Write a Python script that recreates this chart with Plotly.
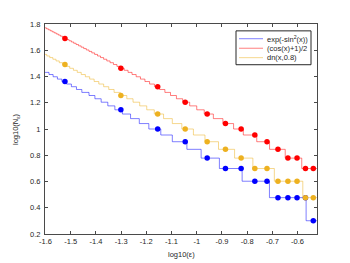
import numpy as np
import plotly.graph_objects as go

# ---- data ----
eps_min = 0.025
eps_max = 0.3

# epsilon values at which the count drops by one, and the counts on each plateau
blue_bounds = [0.02593, 0.02692, 0.02800, 0.02917, 0.03043, 0.03182, 0.03333, 0.03500,
               0.03737, 0.03944, 0.04176, 0.04438, 0.04733, 0.05071, 0.05462, 0.05917,
               0.06455, 0.0720, 0.0800, 0.0914, 0.1041, 0.1230, 0.1514, 0.1943, 0.2716]
blue_n = [27, 26, 25, 24, 23, 22, 21, 20, 19, 18, 17, 16, 15, 14, 13, 12, 11, 10, 9, 8,
          7, 6, 5, 4, 3, 2]

red_bounds = [0.02534, 0.02578, 0.02623, 0.02670, 0.02718, 0.02769, 0.02821, 0.02875,
              0.02931, 0.02990, 0.03051, 0.03115, 0.03181, 0.03250, 0.03322, 0.03398,
              0.03477, 0.03560, 0.03646, 0.03738, 0.03833, 0.03934, 0.04041, 0.04153,
              0.04271, 0.04397, 0.04530, 0.04672, 0.04823, 0.04983, 0.05155, 0.05339,
              0.05537, 0.05750, 0.05980, 0.06229, 0.06500, 0.06795, 0.07119, 0.07475,
              0.07868, 0.08306, 0.08794, 0.09375, 0.1000, 0.1071, 0.1164, 0.1270,
              0.1400, 0.1530, 0.1730, 0.1945, 0.2244, 0.2610]
red_n = [59, 58, 57, 56, 55, 54, 53, 52, 51, 50, 49, 48, 47, 46, 45, 44, 43, 42, 41, 40,
         39, 38, 37, 36, 35, 34, 33, 32, 31, 30, 29, 28, 27, 26, 25, 24, 23, 22, 21, 20,
         19, 18, 17, 16, 15, 14, 13, 12, 11, 10, 9, 8, 7, 6, 5]

yellow_bounds = [0.02541, 0.02611, 0.02686, 0.02765, 0.02848, 0.02938, 0.03032, 0.03133,
                 0.03241, 0.03357, 0.03481, 0.03615, 0.03760, 0.03917, 0.04087, 0.04273,
                 0.04476, 0.04700, 0.04974, 0.05278, 0.05588, 0.05938, 0.06333, 0.06786,
                 0.07385, 0.0800, 0.08727, 0.0970, 0.1078, 0.1220, 0.1413, 0.1670,
                 0.2032, 0.2635]
yellow_n = [37, 36, 35, 34, 33, 32, 31, 30, 29, 28, 27, 26, 25, 24, 23, 22, 21, 20, 19, 18,
            17, 16, 15, 14, 13, 12, 11, 10, 9, 8, 7, 6, 5, 4, 3]

# marked sample points
dot_eps = [0.03, 0.05, 0.07, 0.09, 0.11, 0.13, 0.15, 0.17, 0.19, 0.21, 0.23, 0.25, 0.27, 0.29]
blue_dot_n = [23, 14, 10, 8, 6, 5, 5, 4, 4, 3, 3, 3, 3, 2]
red_dot_n = [49, 29, 21, 16, 13, 11, 10, 9, 8, 7, 6, 6, 5, 5]
yellow_dot_n = [31, 18, 13, 10, 8, 7, 6, 5, 5, 4, 4, 4, 3, 3]

series_names = ["exp(-sin<sup>2</sup>(x))", "(cos(x)+1)/2", "dn(x,0.8)"]

x_ticks = [-1.6, -1.5, -1.4, -1.3, -1.2, -1.1, -1.0, -0.9, -0.8, -0.7, -0.6]
x_tick_labels = ["-1.6", "-1.5", "-1.4", "-1.3", "-1.2", "-1.1", "-1", "-0.9", "-0.8", "-0.7", "-0.6"]
y_ticks = [0.2, 0.4, 0.6, 0.8, 1.0, 1.2, 1.4, 1.6, 1.8]
y_tick_labels = ["0.2", "0.4", "0.6", "0.8", "1", "1.2", "1.4", "1.6", "1.8"]

# ---- styling ----
line_cols = ["rgba(0,0,255,0.5)", "rgba(255,0,0,0.5)", "rgba(237,177,32,0.5)"]
dot_cols = ["#0000ff", "#ff0000", "#EDB120"]
FONT = "Liberation Sans, Arial, Helvetica, sans-serif"
TXT = "#262626"


def stairs(bounds, ns):
    xs = [np.log10(eps_min)] + [float(np.log10(b)) for b in bounds] + [np.log10(eps_max)]
    ys = [float(np.log10(n)) for n in ns] + [float(np.log10(ns[-1]))]
    return xs, ys


fig = go.Figure()
all_series = [(blue_bounds, blue_n, blue_dot_n), (red_bounds, red_n, red_dot_n),
              (yellow_bounds, yellow_n, yellow_dot_n)]
for i, (b, n, dn) in enumerate(all_series):
    xs, ys = stairs(b, n)
    fig.add_trace(go.Scatter(x=xs, y=ys, mode="lines", line=dict(color=line_cols[i], width=1, shape="hv"),
                             showlegend=False, hoverinfo="skip"))
    fig.add_trace(go.Scatter(x=np.log10(dot_eps), y=np.log10(dn), mode="markers",
                             marker=dict(color=dot_cols[i], size=5.5, line=dict(width=0)),
                             showlegend=False))

axis_common = dict(showline=True, linecolor="#4a4a4a", linewidth=1, mirror="ticks",
                   ticks="inside", ticklen=3, tickwidth=1, tickcolor="#4a4a4a",
                   showgrid=False, zeroline=False,
                   tickfont=dict(family=FONT, size=7.5, color=TXT))

fig.update_xaxes(range=[np.log10(eps_min), np.log10(eps_max)], tickvals=x_ticks,
                 ticktext=x_tick_labels, **axis_common)
fig.update_yaxes(range=[0.2, 1.8], tickvals=y_ticks, ticktext=y_tick_labels,
                 ticklabelstandoff=2, **axis_common)

# the page body has an 8px margin, so the figure starts at (8, 8) in the screenshot
OFF = 8
W, H = 342, 255
ml, mt = 45 - OFF, 20 - OFF
pw, ph = 272, 214
mr, mb = W - ml - pw, H - mt - ph


def px_to_paper(px, py):
    # px, py are screenshot pixel positions
    return (px - OFF - ml) / pw, (mt + ph - (py - OFF)) / ph


# manual legend
lx0, ly1 = px_to_paper(236, 27)
lx1, ly0 = px_to_paper(311, 61.5)
shapes = [dict(type="rect", xref="paper", yref="paper", x0=lx0, x1=lx1, y0=ly0, y1=ly1,
               line=dict(color="#262626", width=1), fillcolor="white", layer="above")]
annotations = []
rows_py = [35, 44.7, 54.3]
for i, py in enumerate(rows_py):
    sx0, sy = px_to_paper(239, py)
    sx1, _ = px_to_paper(263, py)
    shapes.append(dict(type="line", xref="paper", yref="paper", x0=sx0, x1=sx1, y0=sy, y1=sy,
                       line=dict(color=line_cols[i], width=1), layer="above"))
    tx, _ = px_to_paper(265, py)
    annotations.append(dict(xref="paper", yref="paper", x=tx, y=sy, xanchor="left", yanchor="middle",
                            text=series_names[i], showarrow=False,
                            font=dict(family=FONT, size=7.5, color=TXT)))

# axis labels
xlx, xly = px_to_paper(181, 255)
annotations.append(dict(xref="paper", yref="paper", x=xlx, y=xly, xanchor="center", yanchor="middle",
                        text="log10(ε)", showarrow=False, font=dict(family=FONT, size=7.5, color=TXT)))
ylx, yly = px_to_paper(16, 127)
annotations.append(dict(xref="paper", yref="paper", x=ylx, y=yly, xanchor="center", yanchor="middle",
                        text="log10(N<sub>ε</sub>)", textangle=-90, showarrow=False,
                        font=dict(family=FONT, size=7.5, color=TXT)))

fig.update_layout(width=W, height=H, margin=dict(l=ml, r=mr, t=mt, b=mb, pad=0),
                  paper_bgcolor="white", plot_bgcolor="white", showlegend=False,
                  shapes=shapes, annotations=annotations)

fig.write_html("out.html")
